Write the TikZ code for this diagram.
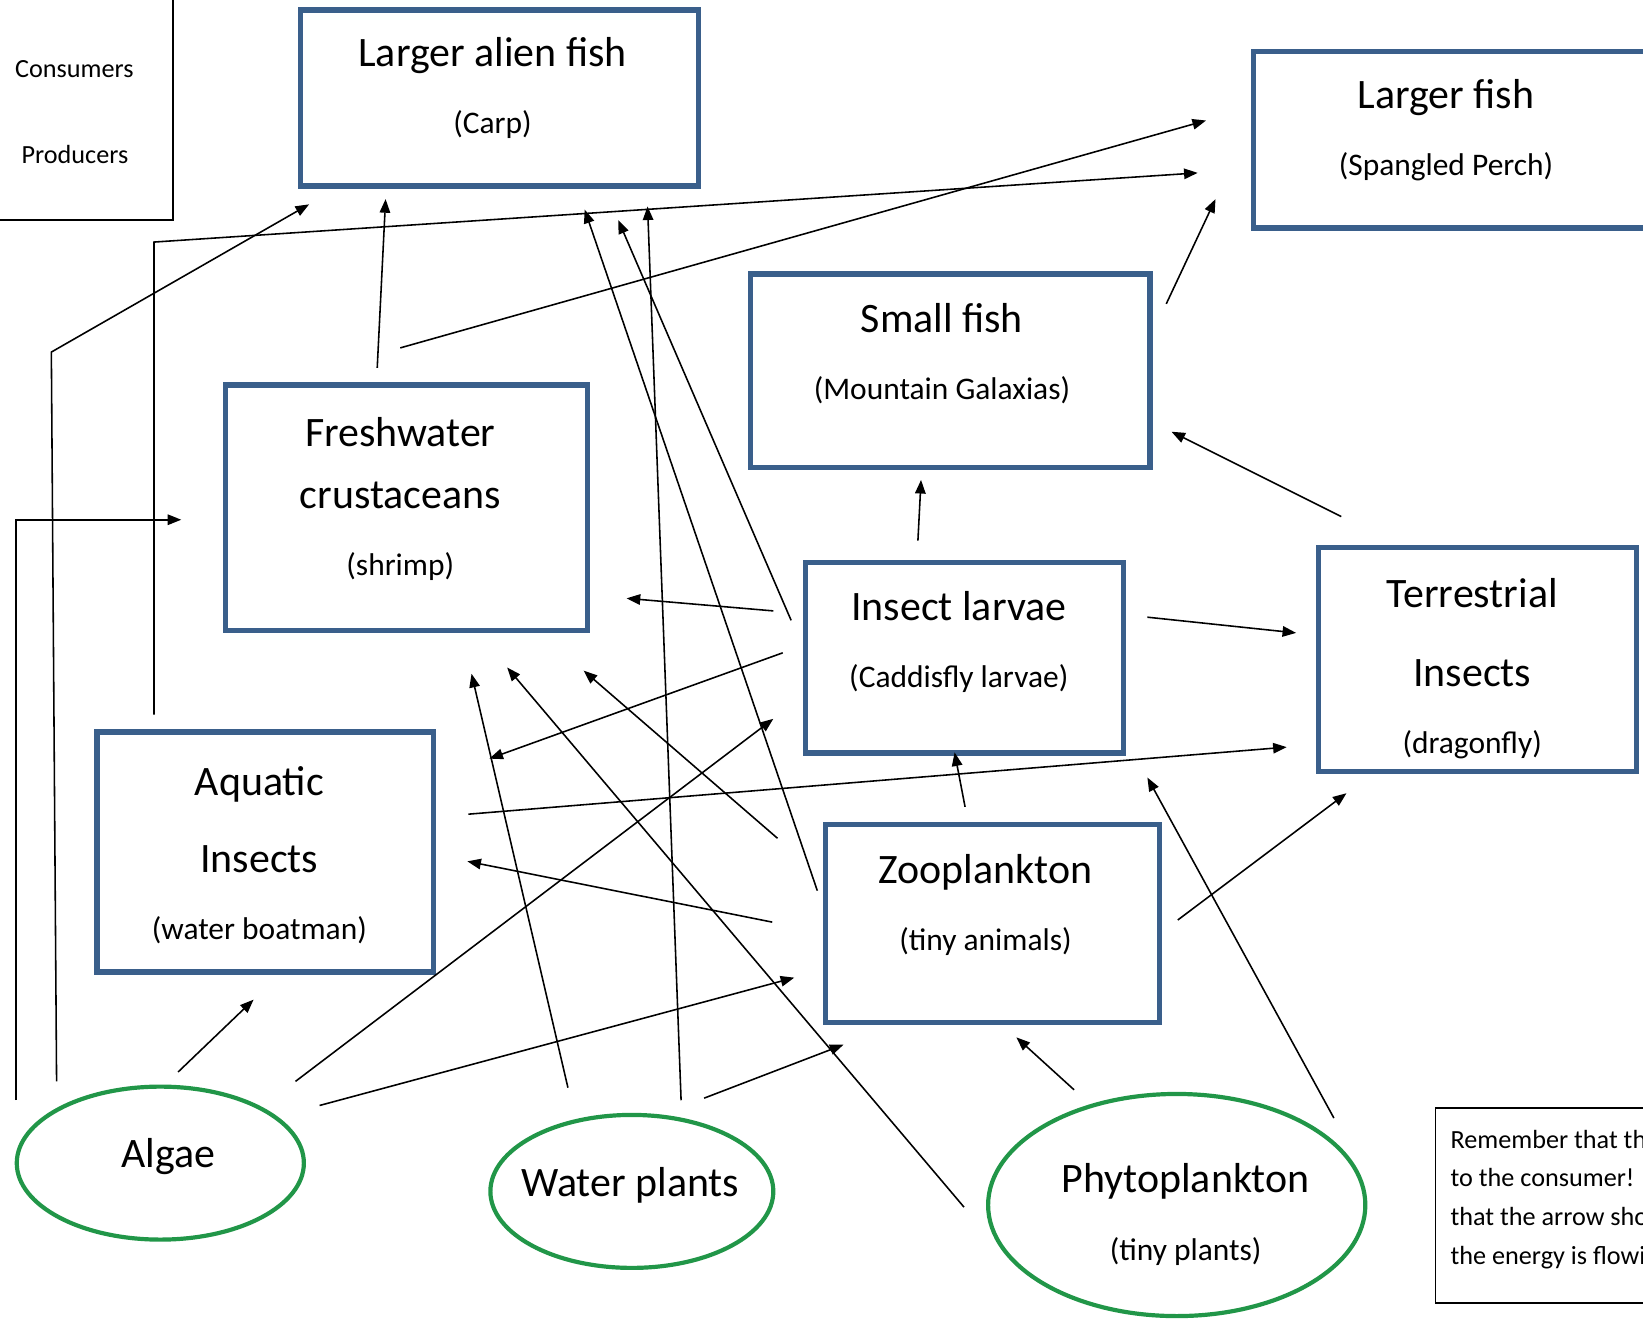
\documentclass[tikz,border=0pt]{standalone}
\usepackage{fontspec}
\setmainfont{Carlito}
\usetikzlibrary{shapes.geometric,arrows.meta}
\definecolor{boxblue}{RGB}{58,95,139}
\definecolor{plantgreen}{RGB}{33,150,72}
\newcommand{\namefont}{\fontsize{20}{32}\selectfont}
\newcommand{\subfont}{\fontsize{15}{18}\selectfont}
\newcommand{\notefont}{\fontsize{12.5}{18.5}\selectfont}

\begin{document}
\begin{tikzpicture}[x={(0.5pt,0)}, y={(0,-0.5pt)},
    animal/.style={draw=boxblue, line width=2.5pt, rectangle, outer sep=0pt, inner sep=0pt},
    plant/.style={draw=plantgreen, line width=2pt, ellipse, outer sep=0pt, inner sep=0pt},
    txt/.style={align=center, font=\namefont, inner sep=0pt},
    arr/.style={-{Triangle[length=6.5pt,width=5pt]}, line width=0.75pt}]
    \useasboundingbox (0,0) rectangle (1568,1260);

    % legend and note
    \node[draw, line width=0.8pt, minimum width=87.5pt, minimum height=110pt, outer sep=0pt] (legend) at (77.5,100) {};
    \node[font=\notefont] (cons) at (71,66) {Consumers};
    \node[font=\notefont] (prod) at (71.5,147) {Producers};
    \node[draw, line width=0.8pt, minimum width=115pt, minimum height=93pt, outer sep=0pt] (note) at (1485,1150.5) {};
    \node[font=\notefont, align=left, anchor=north west, inner sep=0pt] (notetxt) at (1384,1078) {Remember that the\\to the consumer!\\that the arrow shows\\the energy is flowing};

    % consumers
    \node[animal, minimum width=190pt, minimum height=84pt] (carp) at (476.5,93.5) {};
    \node[txt] (carptxt) at (470,84) {Larger alien fish\\{\subfont(Carp)}};
    \node[animal, minimum width=191.75pt, minimum height=84pt] (bigfish) at (1388.25,133.5) {};
    \node[txt] (bigfishtxt) at (1380,124) {Larger fish\\{\subfont(Spangled Perch)}};
    \node[animal, minimum width=190.5pt, minimum height=92.5pt] (smallfish) at (907,354) {};
    \node[txt] (smallfishtxt) at (899,337.5) {Small fish\\{\subfont(Mountain Galaxias)}};
    \node[animal, minimum width=172.5pt, minimum height=117pt] (shrimp) at (388,484.5) {};
    \node[txt] (shrimptxt) at (382,476.5) {Freshwater\\[-2.5pt]crustaceans\\{\subfont(shrimp)}};
    \node[animal, minimum width=152pt, minimum height=91pt] (larvae) at (920.5,627.5) {};
    \node[txt] (larvaetxt) at (915,612.5) {Insect larvae\\{\subfont(Caddisfly larvae)}};
    \node[animal, minimum width=151.5pt, minimum height=107pt] (terr) at (1410,629.5) {};
    \node[txt] (terrtxt) at (1405,638) {Terrestrial\\[5.5pt]Insects\\{\subfont(dragonfly)}};
    \node[animal, minimum width=160.5pt, minimum height=114.5pt] (aquatic) at (253,813) {};
    \node[txt] (aquatictxt) at (247.5,816) {Aquatic\\[5pt]Insects\\{\subfont(water boatman)}};
    \node[animal, minimum width=159.5pt, minimum height=94.5pt] (zoo) at (947,881) {};
    \node[txt] (zootxt) at (940.5,863.5) {Zooplankton\\{\subfont(tiny animals)}};

    % producers
    \node[plant, minimum width=137pt, minimum height=73pt] (algae) at (153,1110) {};
    \node[txt] (algaetxt) at (160.5,1104) {Algae};
    \node[plant, minimum width=135pt, minimum height=73pt] (water) at (603,1137) {};
    \node[txt] (watertxt) at (601.5,1131) {Water plants};
    \node[plant, minimum width=180pt, minimum height=106pt] (phyto) at (1123,1150) {};
    \node[txt] (phytotxt) at (1131.5,1159) {Phytoplankton\\{\subfont(tiny plants)}};

    \coordinate (kneeA) at (49,336);
    \coordinate (kneeB) at (147,231);

    % energy flow
    \draw[arr] ([shift={(-1,-60)}]algae.west) |- ([shift={(-42.5,11.5)}]shrimp.west);
    \draw[arr] ([shift={(-99,-5)}]algae.north) -- (kneeA) -- ([shift={(8.5,17.5)}]carp.south west);
    \draw[arr] ([shift={(-106,-16.5)}]aquatic.north) -- (kneeB) -- ([shift={(-53.5,31.5)}]bigfish.west);
    \draw[arr] ([shift={(-28,-16.5)}]shrimp.north) -- ([shift={(-108.5,12.5)}]carp.south);
    \draw[arr] ([shift={(-6,-35.5)}]shrimp.north) -- ([shift={(-45.5,-18.5)}]bigfish.west);
    \draw[arr] ([shift={(-7.5,-31)}]zoo.west) -- ([shift={(81.5,22.5)}]carp.south);
    \draw[arr] ([shift={(-13.5,-35.5)}]larvae.west) -- ([shift={(113.5,32.5)}]carp.south);
    \draw[arr] ([shift={(47,-14)}]water.north) -- ([shift={(141.5,19.5)}]carp.south);
    \draw[arr] ([shift={(15.5,28.5)}]smallfish.north east) -- ([shift={(-36.5,-27.5)}]bigfish.south west);
    \draw[arr] ([shift={(21.5,-29.5)}]terr.north west) -- ([shift={(20.5,58)}]smallfish.east);
    \draw[arr] ([shift={(-44.5,-20.5)}]larvae.north) -- ([shift={(-28,11.5)}]smallfish.south);
    \draw[arr] ([shift={(-30.5,-44.5)}]larvae.west) -- ([shift={(37.5,-30.5)}]shrimp.south east);
    \draw[arr] ([shift={(22.5,-38.5)}]larvae.east) -- ([shift={(-21.5,-25.5)}]terr.west);
    \draw[arr] ([shift={(-21.5,-4.5)}]larvae.west) -- ([shift={(53.5,25.5)}]aquatic.north east);
    \draw[arr] ([shift={(-61,-26)}]water.north) -- ([shift={(62,41.5)}]shrimp.south);
    \draw[arr] ([shift={(-23,2)}]phyto.west) -- ([shift={(96,35.5)}]shrimp.south);
    \draw[arr] ([shift={(-45.5,13.5)}]zoo.north west) -- ([shift={(-3.5,38.5)}]shrimp.south east);
    \draw[arr] ([shift={(129,-5)}]algae.north) -- ([shift={(-30.5,-32.5)}]larvae.south west);
    \draw[arr] ([shift={(33.5,-36)}]aquatic.east) -- ([shift={(-30.5,-23.5)}]terr.south west);
    \draw[arr] ([shift={(-50.5,-1)}]zoo.west) -- ([shift={(32.5,9)}]aquatic.east);
    \draw[arr] ([shift={(17,-14)}]algae.north) -- ([shift={(-11,26.5)}]aquatic.south);
    \draw[arr] ([shift={(152,18)}]algae.north) -- ([shift={(-29.5,-42.5)}]zoo.south west);
    \draw[arr] ([shift={(69,-16)}]water.north) -- ([shift={(17.5,21.5)}]zoo.south west);
    \draw[arr] ([shift={(-98,-4)}]phyto.north) -- ([shift={(23,14.5)}]zoo.south);
    \draw[arr] ([shift={(-26,-16.5)}]zoo.north) -- ([shift={(-9.5,-0.5)}]larvae.south);
    \draw[arr] ([shift={(17.5,-3)}]zoo.east) -- ([shift={(26.5,20.5)}]terr.south west);
    \draw[arr] ([shift={(150,23)}]phyto.north) -- ([shift={(22.5,23.5)}]larvae.south east);
\end{tikzpicture}
\end{document}
